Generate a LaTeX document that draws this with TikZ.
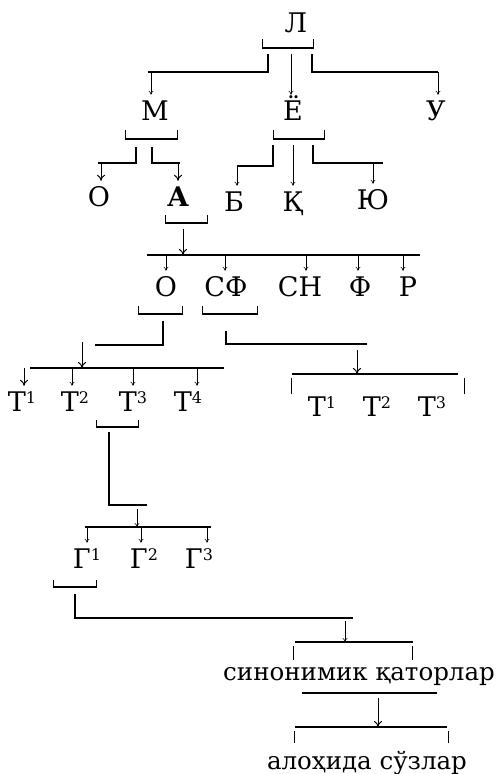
\documentclass[tikz,border=0pt]{standalone}
\usepackage{fontspec}
\setmainfont{DejaVu Serif}
\usetikzlibrary{arrows.meta}
\newcommand\sps[1]{\raisebox{8pt}{\fontsize{16}{16}\selectfont #1}}
\newcommand\brkt[5]{%
  \draw[br] (#1,#3) -- (#1,#4) -- (#2,#4) -- (#2,#3);
  \draw[#5] (#1,#4) -- (#2,#4);}
\tikzset{
  lt/.style={font=\fontsize{27}{30}\selectfont, anchor=base, inner xsep=0pt, inner ysep=5pt, text height=20pt, text depth=0pt},
  ltb/.style={lt, font=\fontsize{27}{30}\selectfont\bfseries},
  wd/.style={font=\fontsize{24.5}{27}\selectfont, anchor=base, inner sep=0pt},
  ln/.style={line width=1.1pt},
  br/.style={line width=0.8pt},
  bar/.style={line width=2.2pt},
  mbar/.style={line width=1.4pt},
  arr/.style={-{To[length=4pt,width=5pt]}, line width=0.6pt},
  barr/.style={-{To[length=6pt,width=8pt]}, line width=1pt},
}
\begin{document}
\begin{tikzpicture}[x=1pt,y=-1pt]
\fill[white] (0,0) rectangle (502,774);
\useasboundingbox (0,0) rectangle (502,774);
% ---------- nodes
\node[lt] (L) at (296,32) {Л};
\node[lt] (M) at (155,120) {М};
\node[lt] (E) at (293,120) {Ё};
\node[lt] (U) at (436,120) {У};
\node[lt] (O1) at (99,206) {О};
\node[ltb] (A) at (178,206) {А};
\node[lt] (B) at (234,211) {Б};
\node[lt] (K) at (293,211) {Қ};
\node[lt] (Yu) at (373,209) {Ю};
\node[lt] (O2) at (166,296) {О};
\node[lt] (SF) at (226,296) {СФ};
\node[lt] (SN) at (300,296) {СН};
\node[lt] (F) at (360,296) {Ф};
\node[lt] (R) at (408,296) {Р};
\node[lt] (T1) at (22,411) {Т\sps{1}};
\node[lt] (T2) at (75,411) {Т\sps{2}};
\node[lt] (T3) at (133,411) {Т\sps{3}};
\node[lt] (T4) at (188,411) {Т\sps{4}};
\node[lt] (RT1) at (322,416) {Т\sps{1}};
\node[lt] (RT2) at (377,416) {Т\sps{2}};
\node[lt] (RT3) at (432,416) {Т\sps{3}};
\node[lt] (G1) at (87,568) {Г\sps{1}};
\node[lt] (G2) at (144,568) {Г\sps{2}};
\node[lt] (G3) at (199,568) {Г\sps{3}};
\node[wd] (syn) at (359,680) {синонимик қаторлар};
\node[wd] (alo) at (367,769) {алоҳида сўзлар};
% ---------- level 1
\brkt{262}{313}{39}{48}{bar}
\coordinate (a1) at (268,54); \coordinate (a2) at (268,72); \coordinate (a3) at (148,72);
\draw[ln] (a1) -- (a2) -- (a3);
\coordinate (a4) at (151,72);
\draw[arr] (a4) -- (a4 |- M.north);
\coordinate (a5) at (291,54);
\draw[arr] (a5) -- (a5 |- E.north);
\coordinate (a6) at (312,54); \coordinate (a7) at (312,72); \coordinate (a8) at (438,72);
\draw[ln] (a6) -- (a7) -- (a8);
\draw[arr] (a8) -- (a8 |- U.north);
% ---------- level 2
\brkt{125}{177}{130}{139}{bar}
\brkt{273}{324}{130}{139}{bar}
\coordinate (b1) at (136,147); \coordinate (b2) at (136,163); \coordinate (b3) at (98,163);
\draw[ln] (b1) -- (b2) -- (b3);
\coordinate (b4) at (101,163);
\draw[barr] (b4) -- (b4 |- O1.north);
\coordinate (b5) at (152,147); \coordinate (b6) at (152,163); \coordinate (b7) at (180,163);
\draw[ln] (b5) -- (b6) -- (b7);
\coordinate (b8) at (178,163);
\draw[barr] (b8) -- (b8 |- A.north);
\coordinate (c1) at (273,145); \coordinate (c2) at (273,166); \coordinate (c3) at (237,166);
\draw[ln] (c1) -- (c2) -- (c3);
\draw[arr] (c3) -- (c3 |- B.north);
\coordinate (c4) at (293,145);
\draw[arr] (c4) -- (c4 |- K.north);
\coordinate (c5) at (313,145); \coordinate (c6) at (313,163); \coordinate (c7) at (383,163);
\draw[ln] (c5) -- (c6) -- (c7);
\coordinate (c8) at (373,163);
\draw[arr] (c8) -- (c8 |- Yu.north);
% ---------- level 3
\brkt{165}{207}{215}{223}{mbar}
\coordinate (d1) at (183,229); \coordinate (d2) at (147,255); \coordinate (d3) at (420,255);
\draw[barr] (d1) -- (d1 |- d2);
\draw[ln] (d2) -- (d3);
\foreach \x/\n in {166/O2, 225/SF, 306/SN, 358/F, 403/R}
  \draw[arr] (\x,255) -- (\x,0 |- \n.north);
% ---------- level 4
\brkt{138}{182}{306}{314}{bar}
\brkt{202}{257}{306}{314}{mbar}
\coordinate (e1) at (163,321); \coordinate (e2) at (163,345); \coordinate (e3) at (95,345);
\draw[ln] (e1) -- (e2) -- (e3);
\coordinate (e4) at (82,342); \coordinate (e5) at (30,368); \coordinate (e6) at (224,368);
\draw[barr] (e4) -- (e4 |- e5);
\draw[ln] (e5) -- (e6);
\draw[barr] (24,368) -- (24,0 |- T1.north);
\foreach \x/\n in {72/T2, 133/T3, 197/T4}
  \draw[arr] (\x,368) -- (\x,0 |- \n.north);
\coordinate (f1) at (226,331); \coordinate (f2) at (226,344); \coordinate (f3) at (367,344);
\draw[ln] (f1) -- (f2) -- (f3);
\coordinate (f4) at (357,350); \coordinate (f5) at (292,374); \coordinate (f6) at (458,374);
\draw[barr] (f4) -- (f4 |- f5);
\draw[ln] (f5) -- (f6);
\draw[br] (291,378) -- (291,394);
\draw[br] (464,378) -- (464,394);
% ---------- level 5
\brkt{96}{138}{420}{427}{bar}
\coordinate (g1) at (109,432); \coordinate (g2) at (109,505); \coordinate (g3) at (147,505);
\draw[ln] (g1) -- (g2) -- (g3);
\coordinate (g4) at (137,509); \coordinate (g5) at (85,527); \coordinate (g6) at (211,527);
\draw[arr] (g4) -- (g4 |- g5);
\draw[ln] (g5) -- (g6);
\foreach \x/\n in {87/G1, 141/G2, 207/G3}
  \draw[arr] (\x,527) -- (\x,0 |- \n.north);
% ---------- level 6
\brkt{53}{96}{580}{587}{bar}
\coordinate (h1) at (75,594); \coordinate (h2) at (75,618); \coordinate (h3) at (353,618);
\draw[ln] (h1) -- (h2) -- (h3);
\coordinate (h4) at (345,621); \coordinate (h5) at (295,642); \coordinate (h6) at (413,642);
\draw[arr] (h4) -- (h4 |- h5);
\draw[ln] (h5) -- (h6);
\draw[br] (293,646) -- (293,660);
\draw[br] (412,646) -- (412,660);
% ---------- level 7
\draw[ln] (302,693) -- (437,693);
\coordinate (k1) at (378,698); \coordinate (k2) at (295,727); \coordinate (k3) at (447,727);
\draw[barr] (k1) -- (k1 |- k2);
\draw[ln] (k2) -- (k3);
\draw[br] (294,731) -- (294,743);
\draw[br] (448,731) -- (448,743);
\end{tikzpicture}
\end{document}
